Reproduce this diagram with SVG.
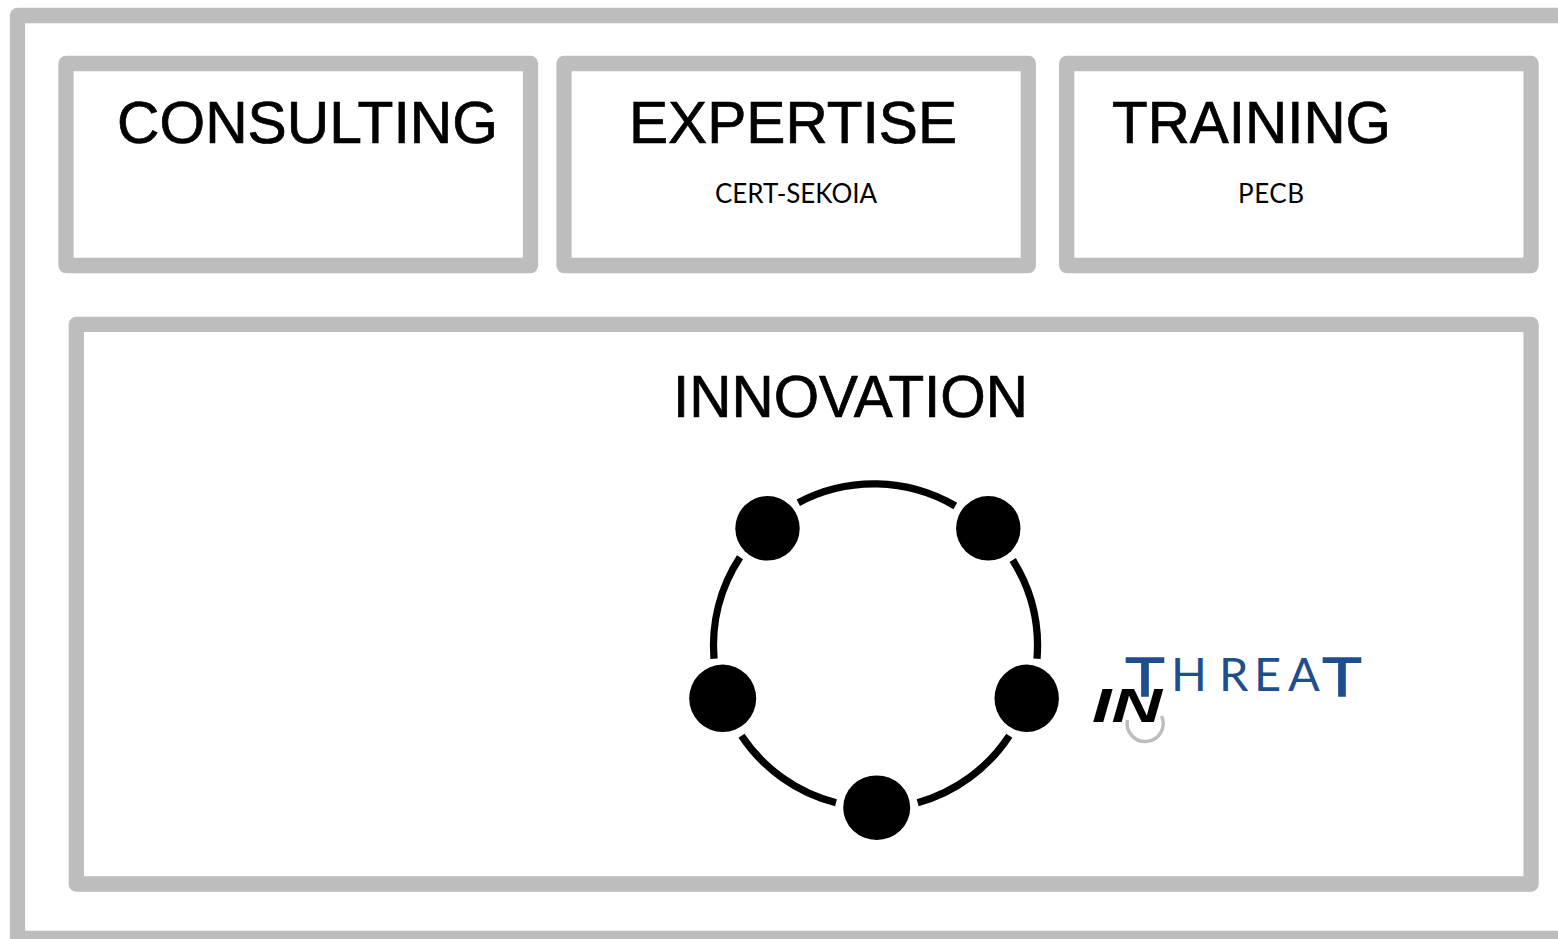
<svg xmlns="http://www.w3.org/2000/svg" width="1558" height="939" viewBox="0 0 1558 939">
<style>
.box{fill:#fff;stroke:#bdbdbd;stroke-width:15.3;stroke-linejoin:round}
.title{font-family:"Liberation Sans",Arial,sans-serif;font-size:58.5px;fill:#000;stroke:#000;stroke-width:.7}
.sub{font-family:Lato,"Liberation Sans",sans-serif;font-size:26px;fill:#000}
.arc{fill:none;stroke:#000;stroke-width:7.3}
.dot{fill:#000}
.logo{font-family:"Liberation Sans",Arial,sans-serif;fill:#1f4e8c;stroke:#1f4e8c;stroke-width:1.4}
</style>
<rect width="1558" height="939" fill="#fff"/>
<g id="frame"><rect class="box" x="17.500" y="15.500" width="1600" height="923"/></g>
<g id="consulting"><rect class="box" x="66" y="63.500" width="464.500" height="202"/>
<text class="title" x="117" y="143" textLength="381" lengthAdjust="spacingAndGlyphs">CONSULTING</text></g>
<g id="expertise"><rect class="box" x="564" y="63.500" width="464.300" height="202"/>
<text class="title" x="629" y="143" textLength="328" lengthAdjust="spacingAndGlyphs">EXPERTISE</text>
<text class="sub" x="715" y="202.500" textLength="162" lengthAdjust="spacing">CERT-SEKOIA</text></g>
<g id="training"><rect class="box" x="1066.700" y="63.500" width="464.400" height="202"/>
<text class="title" x="1112" y="143" textLength="279" lengthAdjust="spacingAndGlyphs">TRAINING</text>
<text class="sub" x="1238" y="202.500" textLength="66" lengthAdjust="spacing">PECB</text></g>
<g id="innovation"><rect class="box" x="76.300" y="324.400" width="1454.800" height="559.600"/>
<text class="title" x="673" y="417" textLength="355" lengthAdjust="spacingAndGlyphs">INNOVATION</text></g>
<g id="connectors">
<path class="arc" d="M798.300 502.700A161.400 161.400 0 0 1 955.300 506"/>
<path class="arc" d="M740 557.300A161.400 161.400 0 0 0 714 658.700"/>
<path class="arc" d="M1012.700 560A161.400 161.400 0 0 1 1037 658.700"/>
<path class="arc" d="M741.500 735.700A161.400 161.400 0 0 0 836 802.700"/>
<path class="arc" d="M1009.300 735.700A161.400 161.400 0 0 1 917.700 802.700"/>
</g>
<g id="node-top-left"><ellipse class="dot" cx="767.500" cy="528.300" rx="32.200" ry="32.300"/></g>
<g id="node-top-right"><ellipse class="dot" cx="988.300" cy="528.300" rx="32.200" ry="32.300"/></g>
<g id="node-left"><ellipse class="dot" cx="722.700" cy="698.300" rx="33.500" ry="33.700"/></g>
<g id="node-right"><ellipse class="dot" cx="1026.700" cy="698.300" rx="32.200" ry="33.700"/></g>
<g id="node-bottom"><ellipse class="dot" cx="876.700" cy="807.700" rx="33.500" ry="32.300"/></g>
<g id="logo">
<path d="M1127.500 720A18 18 0 1 0 1161.500 716" fill="none" stroke="#bdbdbd" stroke-width="3.400"/>
<text class="logo" x="1125" y="696" font-size="56" textLength="40" lengthAdjust="spacingAndGlyphs">T</text>
<text x="1171 1219 1254 1288" y="691" font-family="Lato,'Liberation Sans',sans-serif" font-size="47" fill="#1f4e8c">HREA</text>
<text class="logo" x="1322" y="696" font-size="56" textLength="40" lengthAdjust="spacingAndGlyphs">T</text>
<text x="1092" y="722" font-family="'Liberation Sans',Arial,sans-serif" font-size="49" font-weight="700" font-style="italic" fill="#000" textLength="70" lengthAdjust="spacingAndGlyphs">IN</text>
</g>
</svg>
